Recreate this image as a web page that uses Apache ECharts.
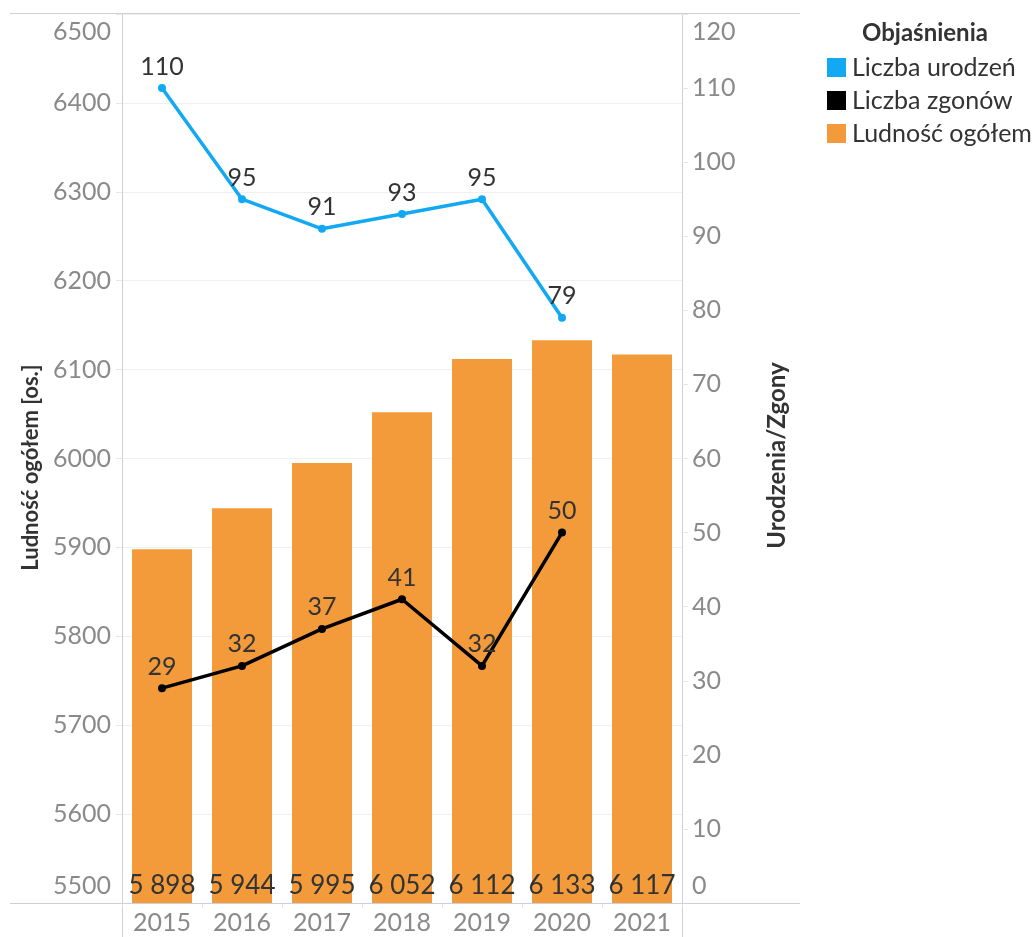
<!DOCTYPE html>
<html>
<head>
<meta charset="utf-8">
<script src="https://cdn.jsdelivr.net/npm/echarts@6/dist/echarts.min.js"></script>
<style>
html,body{margin:0;padding:0;background:#fff;}
#chart{width:1036px;height:937px;}
</style>
</head>
<body>
<div id="chart"></div>
<script>
const years = ['2015','2016','2017','2018','2019','2020','2021'];
const population = [5898, 5944, 5995, 6052, 6112, 6133, 6117];
const births = [110, 95, 91, 93, 95, 79, null];
const deaths = [29, 32, 37, 41, 32, 50, null];
const leftAxis = {min: 5500, max: 6500, interval: 100};
const rightAxis = {min: 0, max: 120, interval: 10};
const seriesNames = ['Liczba urodzeń', 'Liczba zgonów', 'Ludność ogółem'];
const axisNames = ['Ludność ogółem [os.]', 'Urodzenia/Zgony'];
const legendTitle = 'Objaśnienia';

const FONT = 'Lato';
const BLUE = '#12a9f2';
const BLACK = '#000000';
const ORANGE = '#f39b3b';
const GRAY = '#8a8a8a';
const DARK = '#333333';

function edgeLabel(min, max) {
  return function (v) {
    if (v === max) return '\n' + v;
    if (v === min) return v + '\n';
    return String(v);
  };
}
function spaced(v) {
  return String(v).replace(/\B(?=(\d{3})+(?!\d))/g, ' ');
}

const chart = echarts.init(document.getElementById('chart'));
const option = {
  backgroundColor: '#ffffff',
  textStyle: {fontFamily: FONT},
  animation: false,
  title: {
    text: legendTitle,
    left: 857, top: 16,
    textStyle: {fontFamily: FONT, fontSize: 24, fontWeight: 'bold', color: DARK}
  },
  legend: {
    orient: 'vertical',
    left: 822, top: 50,
    itemWidth: 19, itemHeight: 19, itemGap: 8,
    textStyle: {fontFamily: FONT, fontSize: 25, color: DARK, padding: [0,0,0,1]},
    data: [
      {name: seriesNames[0], icon: 'rect', itemStyle: {color: BLUE}},
      {name: seriesNames[1], icon: 'rect', itemStyle: {color: BLACK}},
      {name: seriesNames[2], icon: 'rect', itemStyle: {color: ORANGE}}
    ],
    selectedMode: false
  },
  grid: {left: 122, right: 354, top: 14, bottom: 34, containLabel: false, outerBoundsMode: 'none'},
  xAxis: {
    type: 'category',
    data: years,
    axisLine: {show: false},
    axisTick: {show: true, length: 5, lineStyle: {color: '#e2e2e2'}},
    axisLabel: {color: GRAY, fontSize: 25, fontFamily: FONT, margin: 7}
  },
  yAxis: [
    {
      type: 'value',
      min: leftAxis.min, max: leftAxis.max, interval: leftAxis.interval,
      position: 'left',
      name: axisNames[0],
      nameLocation: 'middle', nameRotate: 90, nameGap: 80,
      nameTextStyle: {fontFamily: FONT, fontSize: 22, fontWeight: 'bold', color: DARK, padding: [0,0,0,-18]},
      axisLine: {show: true, lineStyle: {color: '#d0d0d0'}},
      axisTick: {show: true, length: 6, lineStyle: {color: '#e6e6e6'}},
      splitLine: {show: true, lineStyle: {color: '#f0f0f0'}},
      axisLabel: {color: GRAY, fontSize: 25, fontFamily: FONT, margin: 11, lineHeight: 35,
        formatter: edgeLabel(leftAxis.min, leftAxis.max)}
    },
    {
      type: 'value',
      min: rightAxis.min, max: rightAxis.max, interval: rightAxis.interval,
      position: 'right',
      name: axisNames[1],
      nameLocation: 'middle', nameRotate: 90, nameGap: 83,
      nameTextStyle: {fontFamily: FONT, fontSize: 24, fontWeight: 'bold', color: DARK, padding: [0,0,0,6]},
      axisLine: {show: true, lineStyle: {color: '#d0d0d0'}},
      axisTick: {show: true, length: 6, lineStyle: {color: '#e6e6e6'}},
      splitLine: {show: false},
      axisLabel: {color: GRAY, fontSize: 25, fontFamily: FONT, margin: 10, lineHeight: 35,
        formatter: edgeLabel(rightAxis.min, rightAxis.max)}
    }
  ],
  series: [
    {
      name: seriesNames[2],
      type: 'bar',
      yAxisIndex: 0,
      data: population,
      barCategoryGap: '25%',
      itemStyle: {color: ORANGE},
      label: {show: true, position: 'insideBottom', distance: 4, color: DARK,
        fontSize: 26, fontFamily: FONT, formatter: p => spaced(p.value)},
      z: 1
    },
    {
      name: seriesNames[0],
      type: 'line',
      yAxisIndex: 1,
      data: births,
      symbol: 'circle', symbolSize: 8,
      lineStyle: {color: BLUE, width: 3.5},
      itemStyle: {color: BLUE},
      label: {show: true, position: 'top', distance: 5, color: DARK, fontSize: 25, fontFamily: FONT},
      z: 5
    },
    {
      name: seriesNames[1],
      type: 'line',
      yAxisIndex: 1,
      data: deaths,
      symbol: 'circle', symbolSize: 8,
      lineStyle: {color: BLACK, width: 3.5},
      itemStyle: {color: BLACK},
      label: {show: true, position: 'top', distance: 5, color: DARK, fontSize: 25, fontFamily: FONT},
      z: 5
    }
  ],
  graphic: [
    {type: 'line', shape: {x1: 10, y1: 13.5, x2: 800, y2: 13.5}, style: {stroke: '#d0d0d0', lineWidth: 1}, z: 0},
    {type: 'line', shape: {x1: 10, y1: 903.5, x2: 800, y2: 903.5}, style: {stroke: '#d0d0d0', lineWidth: 1}, z: 10},
    {type: 'line', shape: {x1: 122.5, y1: 903, x2: 122.5, y2: 937}, style: {stroke: '#d0d0d0', lineWidth: 1}},
    {type: 'line', shape: {x1: 682.5, y1: 903, x2: 682.5, y2: 937}, style: {stroke: '#d0d0d0', lineWidth: 1}}
  ]
};
chart.setOption(option);
</script>
</body>
</html>
